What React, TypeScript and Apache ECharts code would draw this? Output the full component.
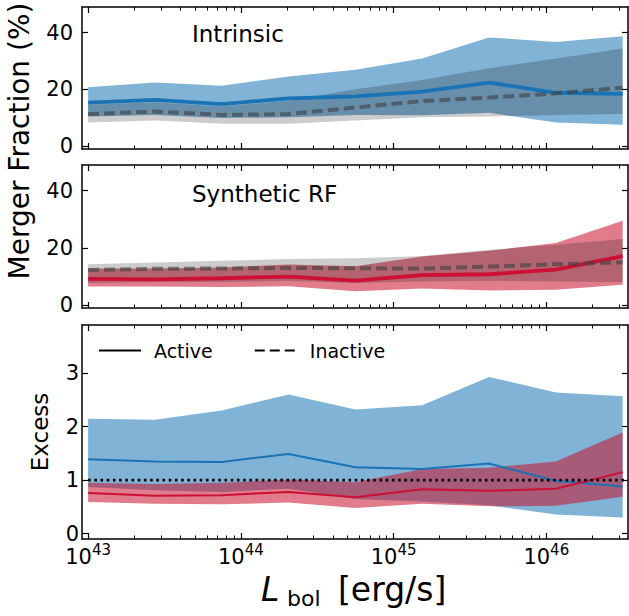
import React, { useEffect, useRef } from 'react';
import * as echarts from 'echarts';

// ---- data (log10 of bolometric luminosity bin centres) ----
const LOG_L = [43, 43.4375, 43.875, 44.3125, 44.75, 45.1875, 45.625, 46.0625, 46.5];

// Panel 1: Intrinsic merger fraction (%)
const intrActive = [15.3, 16.3, 14.8, 16.8, 17.5, 19.2, 22.4, 18.8, 18.4];
const intrActiveLo = [10.4, 11.0, 9.9, 10.2, 11.0, 10.9, 11.8, 8.3, 7.5];
const intrActiveHi = [20.7, 22.4, 21.3, 24.5, 26.9, 30.9, 38.3, 36.7, 38.7];
const intrInactive = [11.3, 12.2, 11.0, 11.3, 13.6, 15.9, 17.1, 18.6, 20.6];
const intrInactiveLo = [8.3, 9.0, 7.9, 7.9, 9.0, 10.2, 10.4, 11.0, 11.3];
const intrInactiveHi = [14.6, 15.5, 14.0, 16.0, 20.0, 23.3, 27.4, 30.9, 34.4];

// Panel 2: Synthetic RF merger fraction (%)
const rfActive = [9.2, 9.0, 9.4, 10.0, 8.6, 10.5, 10.8, 12.4, 17.1];
const rfActiveLo = [6.5, 6.5, 6.3, 6.6, 4.9, 5.8, 5.1, 5.4, 7.1];
const rfActiveHi = [12.8, 12.8, 13.2, 14.2, 13.6, 17.0, 19.0, 21.7, 29.5];
const rfInactive = [12.3, 12.7, 12.8, 13.0, 12.9, 12.8, 13.5, 14.3, 15.0];
const rfInactiveLo = [7.7, 8.1, 8.1, 8.4, 7.7, 8.3, 8.5, 8.3, 8.1];
const rfInactiveHi = [14.3, 14.9, 15.5, 16.1, 16.4, 17.2, 19.4, 21.1, 23.1];

// Panel 3: Excess
const excIntr = [1.39, 1.35, 1.34, 1.49, 1.24, 1.21, 1.31, 0.99, 0.88];
const excIntrLo = [0.87, 0.81, 0.78, 0.84, 0.65, 0.60, 0.53, 0.36, 0.30];
const excIntrHi = [2.15, 2.13, 2.30, 2.60, 2.32, 2.40, 2.93, 2.64, 2.57];
const excRF = [0.76, 0.71, 0.72, 0.78, 0.68, 0.83, 0.80, 0.84, 1.15];
const excRFLo = [0.59, 0.56, 0.55, 0.58, 0.48, 0.56, 0.51, 0.52, 0.69];
const excRFHi = [0.95, 0.93, 0.95, 1.01, 0.96, 1.21, 1.23, 1.35, 1.89];
const UNITY = 1;

// ticks
const X_MIN = 42.96;
const X_MAX = 46.535;
const X_MAJOR = [43, 44, 45, 46];
const X_MINOR: number[] = [];
for (let n = 42; n <= 46; n++) {
  for (let k = 2; k <= 9; k++) {
    const v = n + Math.log10(k);
    if (v > X_MIN && v < X_MAX) X_MINOR.push(v);
  }
}
const FRAC_TICKS = [0, 20, 40];
const FRAC_RANGE = [-1, 49];
const EXC_TICKS = [0, 1, 2, 3];
const EXC_RANGE = [-0.1, 3.9];

const FONT = "'DejaVu Sans', 'Liberation Sans', sans-serif";
const BLUE = '#1a73b5';
const BLUE_FILL = 'rgba(26,117,181,0.55)';
const RED = '#cc0f35';
const RED_FILL = 'rgba(200,16,46,0.55)';
const GRAY_FILL = 'rgba(0,0,0,0.2)';
const DASH_GRAY = 'rgba(64,64,64,0.62)';

function band(g: number, lo: number[], hi: number[], fill: string, z: number) {
  return {
    type: 'custom',
    xAxisIndex: g * 4,
    yAxisIndex: g * 2,
    z,
    silent: true,
    clip: true,
    data: LOG_L.map((x, i) => [x, lo[i], hi[i]]),
    encode: { x: 0, y: [1, 2] },
    renderItem: (params: any, api: any) => {
      if (params.dataIndex !== 0) return null;
      const top = LOG_L.map((x, i) => api.coord([x, hi[i]]));
      const bot = LOG_L.map((x, i) => api.coord([x, lo[i]])).reverse();
      return { type: 'polygon', shape: { points: top.concat(bot) }, style: { fill } };
    },
  };
}

function line(g: number, vals: number[], color: string, width: number, z: number, dash?: any) {
  return {
    type: 'line',
    xAxisIndex: g * 4,
    yAxisIndex: g * 2,
    z,
    silent: true,
    symbol: 'none',
    data: LOG_L.map((x, i) => [x, vals[i]]),
    lineStyle: { color, width, type: dash || 'solid', cap: 'butt' },
  };
}

function xAxes(g: number) {
  const base = {
    gridIndex: g,
    type: 'value',
    min: X_MIN,
    max: X_MAX,
    splitLine: { show: false },
  };
  const major = (pos: string, labels: boolean) => ({
    ...base,
    position: pos,
    axisLine: { show: true, onZero: false, lineStyle: { color: '#000', width: 1.5 } },
    axisTick: { show: true, inside: true, length: 6, customValues: X_MAJOR, lineStyle: { color: '#000', width: 1.2 } },
    axisLabel: labels
      ? {
          show: true,
          customValues: X_MAJOR,
          margin: 3,
          formatter: (v: number) => `{b|10}{s|${Math.round(v)}}`,
          rich: {
            b: { fontSize: 21, fontFamily: FONT, color: '#000', lineHeight: 25, verticalAlign: 'bottom' },
            s: { fontSize: 15, fontFamily: FONT, color: '#000', lineHeight: 25, verticalAlign: 'top' },
          },
        }
      : { show: false },
  });
  const minor = (pos: string) => ({
    ...base,
    position: pos,
    axisLine: { show: false, onZero: false },
    axisTick: { show: true, inside: true, length: 3.5, customValues: X_MINOR, lineStyle: { color: '#000', width: 1 } },
    axisLabel: { show: false },
  });
  return [major('bottom', g === 2), minor('bottom'), major('top', false), minor('top')];
}

function yAxes(g: number, range: number[], ticks: number[], labelMargin: number) {
  const base = {
    gridIndex: g,
    type: 'value',
    min: range[0],
    max: range[1],
    splitLine: { show: false },
    axisLine: { show: true, onZero: false, lineStyle: { color: '#000', width: 1.5 } },
    axisTick: { show: true, inside: true, length: 6, customValues: ticks, lineStyle: { color: '#000', width: 1.2 } },
  };
  return [
    {
      ...base,
      position: 'left',
      axisLabel: { show: true, customValues: ticks, margin: labelMargin, fontSize: 21, fontFamily: FONT, color: '#000' },
    },
    { ...base, position: 'right', axisLabel: { show: false } },
  ];
}

export default function App() {
  const ref = useRef<HTMLDivElement>(null);
  useEffect(() => {
    document.body.style.margin = '0';
    if (!ref.current) return;
    const chart = echarts.init(ref.current, undefined, { renderer: 'svg' });
    const grids = [
      { left: 82, right: 1, top: 7, height: 142 },
      { left: 82, right: 1, top: 165, height: 143 },
      { left: 82, right: 1, top: 325, height: 214 },
    ];
    const series: any[] = [
      band(0, intrActiveLo, intrActiveHi, BLUE_FILL, 1),
      band(0, intrInactiveLo, intrInactiveHi, GRAY_FILL, 2),
      line(0, intrActive, BLUE, 3.8, 3),
      line(0, intrInactive, DASH_GRAY, 4, 4, [11, 5]),

      band(1, rfActiveLo, rfActiveHi, RED_FILL, 1),
      band(1, rfInactiveLo, rfInactiveHi, GRAY_FILL, 2),
      line(1, rfActive, RED, 3.8, 3),
      line(1, rfInactive, DASH_GRAY, 4, 4, [11, 5]),

      band(2, excIntrLo, excIntrHi, BLUE_FILL, 1),
      band(2, excRFLo, excRFHi, RED_FILL, 2),
      line(2, excIntr, BLUE, 2, 3),
      line(2, excRF, RED, 2, 3),
      {
        type: 'line',
        xAxisIndex: 8,
        yAxisIndex: 4,
        z: 5,
        silent: true,
        symbol: 'none',
        data: [
          [LOG_L[0], UNITY],
          [X_MAX, UNITY],
        ],
        lineStyle: { color: '#000', width: 2.6, type: [2.6, 3.6], cap: 'butt' },
      },
      {
        type: 'line',
        name: 'Active',
        xAxisIndex: 8,
        yAxisIndex: 4,
        symbol: 'none',
        data: [],
        itemStyle: { color: '#000', opacity: 0 },
        lineStyle: { color: '#000', width: 2.7, type: 'solid', opacity: 1 },
      },
      {
        type: 'line',
        name: 'Inactive',
        xAxisIndex: 8,
        yAxisIndex: 4,
        symbol: 'none',
        data: [],
        itemStyle: { color: '#000', opacity: 0 },
        lineStyle: { color: '#000', width: 2.7, type: [10, 5], opacity: 1 },
      },
    ];
    chart.setOption({
      animation: false,
      grid: grids,
      xAxis: [...xAxes(0), ...xAxes(1), ...xAxes(2)],
      yAxis: [
        ...yAxes(0, FRAC_RANGE, FRAC_TICKS, 9),
        ...yAxes(1, FRAC_RANGE, FRAC_TICKS, 9),
        ...yAxes(2, EXC_RANGE, EXC_TICKS, 3),
      ],
      legend: {
        data: ['Active', 'Inactive'],
        left: 98,
        top: 341,
        padding: 0,
        itemWidth: 42,
        itemHeight: 20,
        itemGap: 41,
        itemStyle: { opacity: 0 },
        textStyle: { fontSize: 19, fontFamily: FONT, color: '#000', padding: [0, 0, 0, 8] },
        selectedMode: false,
      },
      graphic: [
        { type: 'text', x: 192, y: 34, style: { text: 'Intrinsic', fontSize: 23, fontFamily: FONT, fill: '#000', align: 'left', verticalAlign: 'middle' } },
        { type: 'text', x: 192, y: 194, style: { text: 'Synthetic RF', fontSize: 23, fontFamily: FONT, fill: '#000', align: 'left', verticalAlign: 'middle' } },
        { type: 'text', x: 19, y: 141, rotation: Math.PI / 2, style: { text: 'Merger Fraction (%)', fontSize: 28, fontFamily: FONT, fill: '#000', align: 'center', verticalAlign: 'middle' } },
        { type: 'text', x: 40, y: 432, rotation: Math.PI / 2, style: { text: 'Excess', fontSize: 23, fontFamily: FONT, fill: '#000', align: 'center', verticalAlign: 'middle' } },
        { type: 'text', x: 261, y: 589, style: { text: 'L', fontSize: 33, fontStyle: 'italic', fontFamily: FONT, fill: '#000', align: 'left', verticalAlign: 'middle' } },
        { type: 'text', x: 287, y: 598, style: { text: 'bol', fontSize: 22, fontFamily: FONT, fill: '#000', align: 'left', verticalAlign: 'middle' } },
        { type: 'text', x: 338, y: 589, style: { text: '[erg/s]', fontSize: 33, fontFamily: FONT, fill: '#000', align: 'left', verticalAlign: 'middle' } },
      ],
      series,
    });
    return () => chart.dispose();
  }, []);
  return <div ref={ref} style={{ width: 629, height: 616 }} />;
}
